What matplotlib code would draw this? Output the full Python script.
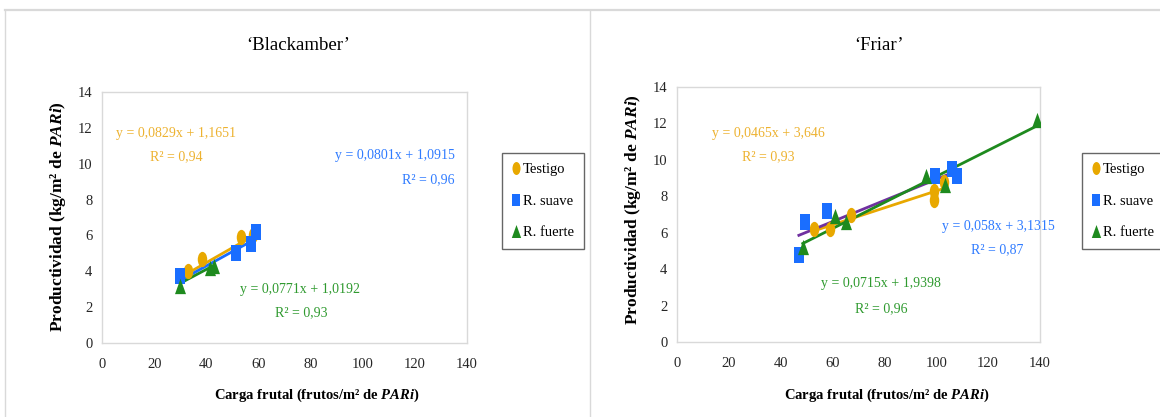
import matplotlib
matplotlib.use('Agg')
import matplotlib.pyplot as plt
import numpy as np
from matplotlib.path import Path
from matplotlib.transforms import Affine2D
from matplotlib.lines import Line2D

plt.rcParams['font.family'] = ['Liberation Serif', 'DejaVu Serif']
plt.rcParams['mathtext.fontset'] = 'custom'
plt.rcParams['mathtext.rm'] = 'Liberation Serif'
plt.rcParams['mathtext.it'] = 'Liberation Serif:italic'
plt.rcParams['mathtext.bf'] = 'Liberation Serif:bold'
plt.rcParams['mathtext.bfit'] = 'Liberation Serif:bold:italic'

# ---------------- data ----------------
series_names = ['Testigo', 'R. suave', 'R. fuerte']
panel_titles = ['\u2018Blackamber\u2019', '\u2018Friar\u2019']
x_ticks = [0, 20, 40, 60, 80, 100, 120, 140]
y_ticks = [0, 2, 4, 6, 8, 10, 12, 14]

# Blackamber
bk_testigo_x = [33, 38.5, 53.5, 58]
bk_testigo_y = [4.0, 4.7, 5.9, 6.0]
bk_suave_x = [30, 51.5, 57, 59]
bk_suave_y = [3.75, 5.0, 5.5, 6.2]
bk_fuerte_x = [30, 41.5, 43]
bk_fuerte_y = [3.2, 4.2, 4.3]
bk_slopes = [0.0829, 0.0801, 0.0771]
bk_intercepts = [1.1651, 1.0915, 1.0192]
bk_eq_labels = ['y = 0,0829x + 1,1651', 'y = 0,0801x + 1,0915', 'y = 0,0771x + 1,0192']
bk_r2_labels = ['R\u00b2 = 0,94', 'R\u00b2 = 0,96', 'R\u00b2 = 0,93']

# Friar
fr_testigo_x = [53, 59, 67, 99, 99, 103]
fr_testigo_y = [6.2, 6.2, 7.0, 7.8, 8.3, 8.8]
fr_suave_x = [47, 49.5, 57.8, 99.5, 106, 108]
fr_suave_y = [4.8, 6.6, 7.2, 9.1, 9.5, 9.1]
fr_fuerte_x = [48.5, 61, 65, 96, 103.5, 139]
fr_fuerte_y = [5.2, 6.9, 6.6, 9.1, 8.6, 12.2]
fr_slopes = [0.0465, 0.058, 0.0715]
fr_intercepts = [3.646, 3.1315, 1.9398]
fr_eq_labels = ['y = 0,0465x + 3,646', 'y = 0,058x + 3,1315', 'y = 0,0715x + 1,9398']
fr_r2_labels = ['R\u00b2 = 0,93', 'R\u00b2 = 0,87', 'R\u00b2 = 0,96']

# ---------------- style ----------------
W, H = 1160, 417
marker_colors = ['#E8A800', '#1A6EFF', '#1E8A1E']
text_colors = ['#EDB230', '#2F7BFF', '#2F9A2F']
bk_line_colors = ['#E8A800', '#1A6EFF', '#1E8A1E']
fr_line_colors = ['#E8A800', '#7030A0', '#1E8A1E']

ellipse = Path.unit_circle().transformed(Affine2D().scale(0.62, 1.0))
rect = Path([(-0.3, -0.5), (0.3, -0.5), (0.3, 0.5), (-0.3, 0.5), (-0.3, -0.5)],
            [Path.MOVETO, Path.LINETO, Path.LINETO, Path.LINETO, Path.CLOSEPOLY])
tri = Path([(-0.36, -0.5), (0.36, -0.5), (0.0, 0.5), (-0.36, -0.5)],
           [Path.MOVETO, Path.LINETO, Path.LINETO, Path.CLOSEPOLY])
markers = [ellipse, rect, tri]

fig = plt.figure(figsize=(W / 100, H / 100), dpi=100)


def px(x, y):
    return x / W, 1 - y / H


# panel frames
fig.add_artist(Line2D([5 / W, 1.0], [1 - 10 / H] * 2, color='#d9d9d9', lw=1.6,
                      transform=fig.transFigure))
fig.add_artist(Line2D([5 / W] * 2, [0, 1 - 10 / H], color='#d9d9d9', lw=1.0,
                      transform=fig.transFigure))
fig.add_artist(Line2D([590 / W] * 2, [0, 1 - 10 / H], color='#d9d9d9', lw=1.0,
                      transform=fig.transFigure))


def draw_panel(rect_px, data, slopes, intercepts, line_colors):
    l, r, t, b = rect_px
    ax = fig.add_axes([l / W, 1 - b / H, (r - l) / W, (b - t) / H])
    handles = []
    for i, (xs, ys) in enumerate(data):
        xs = np.array(xs)
        xl = np.array([xs.min(), xs.max()])
        ax.plot(xl, slopes[i] * xl + intercepts[i], color=line_colors[i], lw=2.0, zorder=3)
    for i, (xs, ys) in enumerate(data):
        h, = ax.plot(xs, ys, linestyle='none', marker=markers[i], markersize=11,
                     color=marker_colors[i], markeredgewidth=0, zorder=4,
                     label=series_names[i])
        handles.append(h)
    ax.set_xlim(0, 140)
    ax.set_ylim(0, 14)
    ax.set_xticks(x_ticks)
    ax.set_yticks(y_ticks)
    ax.tick_params(length=0, labelsize=10.5, colors='#262626')
    ax.tick_params(axis='x', pad=11)
    ax.tick_params(axis='y', pad=7)
    for s in ax.spines.values():
        s.set_color('#d9d9d9')
        s.set_linewidth(1.0)
    return ax, handles


ax1, h1 = draw_panel((102, 467, 92, 343),
                     [(bk_testigo_x, bk_testigo_y), (bk_suave_x, bk_suave_y),
                      (bk_fuerte_x, bk_fuerte_y)],
                     bk_slopes, bk_intercepts, bk_line_colors)
ax2, h2 = draw_panel((677, 1040, 87, 342),
                     [(fr_testigo_x, fr_testigo_y), (fr_suave_x, fr_suave_y),
                      (fr_fuerte_x, fr_fuerte_y)],
                     fr_slopes, fr_intercepts, fr_line_colors)

# titles
fig.text(*px(298, 46), panel_titles[0], ha='center', va='center', fontsize=13.5)
fig.text(*px(879, 46), panel_titles[1], ha='center', va='center', fontsize=13.5)

# axis labels
xlab = 'Carga frutal (frutos/m\u00b2 de $\\mathbfit{PARi}$)'
ylab = 'Productividad (kg/m\u00b2 de $\\mathbfit{PARi}$)'
fig.text(*px(317, 395), xlab, ha='center', va='center', fontsize=10.5, fontweight='bold')
fig.text(*px(887, 395), xlab, ha='center', va='center', fontsize=10.5, fontweight='bold')
fig.text(*px(58, 217), ylab, ha='center', va='center', fontsize=12.5, fontweight='bold',
         rotation=90)
fig.text(*px(633, 210), ylab, ha='center', va='center', fontsize=12.5, fontweight='bold',
         rotation=90)

# equations
bk_eq_pos = [((176, 133), (176, 157)), ((395, 155), (428, 180)), ((300, 290), (301, 313))]
fr_eq_pos = [((768, 133), (768, 157)), ((998, 227), (997, 250)), ((881, 283), (881, 309))]
for i in range(3):
    (ex, ey), (rx, ry) = bk_eq_pos[i]
    fig.text(*px(ex, ey), bk_eq_labels[i], ha='center', va='center', fontsize=10,
             color=text_colors[i])
    fig.text(*px(rx, ry), bk_r2_labels[i], ha='center', va='center', fontsize=10,
             color=text_colors[i])
    (ex, ey), (rx, ry) = fr_eq_pos[i]
    fig.text(*px(ex, ey), fr_eq_labels[i], ha='center', va='center', fontsize=10,
             color=text_colors[i])
    fig.text(*px(rx, ry), fr_r2_labels[i], ha='center', va='center', fontsize=10,
             color=text_colors[i])

# legends
for ax, hs, lx in [(ax1, h1, 502), (ax2, h2, 1082)]:
    leg = ax.legend(handles=hs, loc='upper left', bbox_to_anchor=px(lx, 153),
                    bbox_transform=fig.transFigure, frameon=True, fancybox=False,
                    edgecolor='#404040', fontsize=10.5, labelspacing=1.25,
                    handlelength=0.5, handletextpad=0.25, borderpad=0.7,
                    borderaxespad=0, markerscale=0.85)
    leg.get_frame().set_linewidth(1.0)

fig.savefig('out.png', dpi=100)
